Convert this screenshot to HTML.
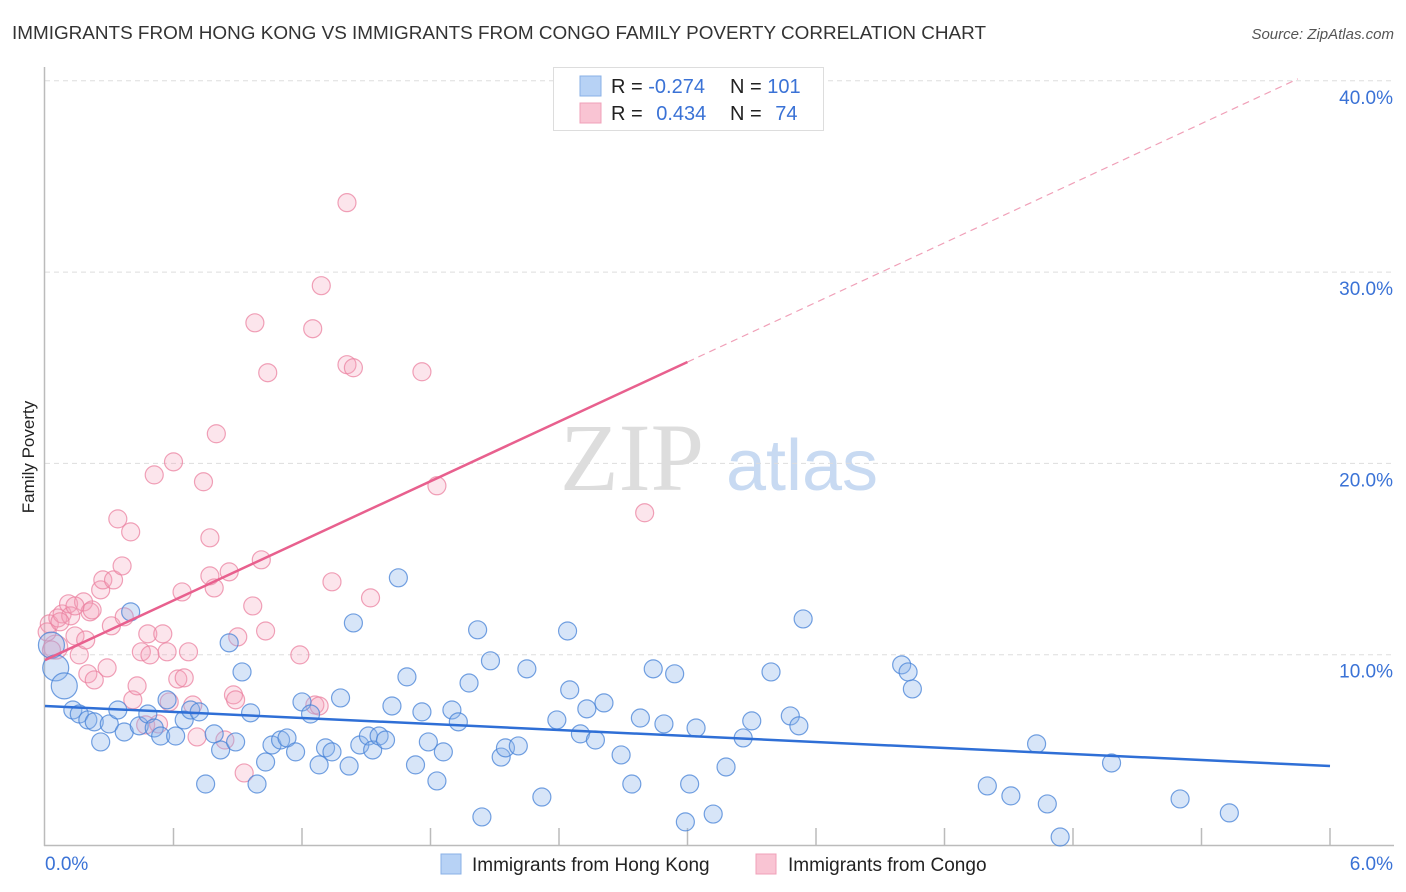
<!DOCTYPE html>
<html><head><meta charset="utf-8"><style>
body{margin:0;background:#fff;font-family:"Liberation Sans",sans-serif}
svg{display:block}
</style></head><body>
<svg id="chart" width="1406" height="892" xmlns="http://www.w3.org/2000/svg">
<text x="12" y="39" font-size="18.9" fill="#333">IMMIGRANTS FROM HONG KONG VS IMMIGRANTS FROM CONGO FAMILY POVERTY CORRELATION CHART</text>
<text x="1394" y="39" font-size="15" fill="#555" font-style="italic" text-anchor="end">Source: ZipAtlas.com</text>
<text x="34" y="457" font-size="17" fill="#222" text-anchor="middle" transform="rotate(-90 34 457)">Family Poverty</text>
<g>
<text x="632" y="490" font-size="96" font-family="Liberation Serif,serif" fill="#ddd" text-anchor="middle">ZIP</text>
<text x="802" y="490" font-size="72" fill="#c8daf2" text-anchor="middle">atlas</text>
</g>
<g id="grid"></g><g id="axes"></g><g id="pts"></g><g id="trends"></g>
<g>
<rect x="553.5" y="67.5" width="270" height="63" fill="#fff" stroke="#ddd"/>
<rect x="580" y="76" width="21" height="20" fill="#b7d2f5" stroke="#8ab0e6"/>
<rect x="580" y="103" width="21" height="20" fill="#f9c4d3" stroke="#f0a0b8"/>
<text x="611" y="93" font-size="20" fill="#222">R = <tspan fill="#3a72d6">-0.274</tspan></text>
<text x="730" y="93" font-size="20" fill="#222">N = <tspan fill="#3a72d6">101</tspan></text>
<text x="611" y="120" font-size="20" fill="#222">R = <tspan fill="#3a72d6" dx="8">0.434</tspan></text>
<text x="730" y="120" font-size="20" fill="#222">N = <tspan fill="#3a72d6" dx="8">74</tspan></text>
</g>
<g>
<rect x="441" y="854" width="20" height="20" fill="#b7d2f5" stroke="#8ab0e6"/>
<text x="472" y="871" font-size="19" fill="#222">Immigrants from Hong Kong</text>
<rect x="756" y="854" width="20" height="20" fill="#f9c4d3" stroke="#f0a0b8"/>
<text x="788" y="871" font-size="19" fill="#222">Immigrants from Congo</text>
</g>
</svg>
<script>
const blueX=[0.03,0.05,0.09,0.13,0.16,0.20,0.23,0.26,0.30,0.34,0.37,0.40,0.44,0.48,0.51,0.54,0.57,0.61,0.65,0.68,0.72,0.75,0.79,0.82,0.86,0.89,0.92,0.96,0.99,1.03,1.06,1.10,1.13,1.17,1.20,1.24,1.28,1.31,1.34,1.38,1.42,1.44,1.47,1.51,1.53,1.56,1.59,1.62,1.65,1.69,1.73,1.76,1.79,1.83,1.86,1.90,1.93,1.98,2.02,2.04,2.08,2.13,2.15,2.21,2.25,2.32,2.39,2.44,2.45,2.50,2.53,2.57,2.61,2.69,2.74,2.78,2.84,2.89,2.94,2.99,3.01,3.04,3.12,3.18,3.26,3.30,3.39,3.48,3.52,3.54,4.00,4.03,4.05,4.40,4.51,4.63,4.68,4.74,4.98,5.30,5.53];
const blueY=[10.5,9.31,8.37,7.11,6.90,6.59,6.49,5.44,6.38,7.11,5.96,12.24,6.28,6.90,6.17,5.75,7.64,5.75,6.59,7.11,7.01,3.24,5.86,5.02,10.62,5.44,9.10,6.96,3.24,4.39,5.28,5.54,5.65,4.92,7.53,6.90,4.24,5.13,4.92,7.74,4.18,11.66,5.28,5.75,5.02,5.75,5.54,7.32,14.02,8.84,4.24,7.01,5.44,3.40,4.92,7.11,6.49,8.52,11.30,1.52,9.68,4.65,5.13,5.23,9.26,2.56,6.59,11.24,8.16,5.86,7.17,5.54,7.48,4.76,3.24,6.69,9.26,6.38,9.00,1.26,3.24,6.17,1.67,4.13,5.65,6.54,9.10,6.80,6.28,11.87,9.47,9.10,8.21,3.14,2.62,5.34,2.20,0.47,4.34,2.46,1.73];
const blueBig=[0,1,2];
const pinkX=[0.02,0.05,0.06,0.08,0.11,0.12,0.14,0.16,0.18,0.20,0.21,0.23,0.26,0.27,0.29,0.31,0.32,0.34,0.36,0.37,0.40,0.41,0.43,0.45,0.47,0.48,0.49,0.51,0.53,0.55,0.57,0.58,0.60,0.62,0.64,0.65,0.67,0.69,0.71,0.74,0.77,0.77,0.79,0.80,0.84,0.86,0.88,0.89,0.90,0.93,0.97,0.98,1.01,1.03,1.04,1.19,1.25,1.26,1.29,1.34,1.41,1.41,1.44,1.52,1.76,1.83,2.80,0.01,0.03,0.07,0.14,0.19,0.22,1.28];
const pinkY=[11.61,10.4,11.92,12.13,12.66,12.03,10.98,9.99,12.76,9.00,12.24,8.68,13.39,13.91,9.31,11.51,13.91,17.10,14.64,11.98,16.42,7.64,8.37,10.15,6.33,11.09,9.99,19.40,6.38,11.09,10.15,7.53,20.08,8.73,13.28,8.79,10.15,7.37,5.70,19.04,16.11,14.12,13.49,21.55,5.54,14.33,7.90,7.64,10.93,3.82,12.55,27.35,14.96,11.24,24.74,9.99,27.04,7.37,29.29,13.81,33.63,25.16,25.0,12.97,24.79,18.83,17.42,11.19,10.25,11.72,12.55,10.77,12.34,7.32];
const pinkBig=[1];
const blueTrendX=[0,6.0], blueTrendY=[7.32,4.18];
const pinkTrendX=[0,3.0], pinkTrendY=[9.72,25.3];
const pinkDashEndX=5.85;
const yTicks=[10,20,30,40], yTickLabels=["10.0%","20.0%","30.0%","40.0%"];
const xTickCount=10;

const NS="http://www.w3.org/2000/svg";
const X0=45,X1=1330,Y0=846,YPX=19.13;
function xs(v){return X0+v*(X1-X0)/6;}
function ys(v){return Y0-v*YPX;}
function mk(p,tag,a){const e=document.createElementNS(NS,tag);for(const k in a)e.setAttribute(k,a[k]);document.getElementById(p).appendChild(e);return e;}

yTicks.forEach((t,i)=>{
 const g=mk('grid','line',{x1:X0,x2:1394,y1:ys(t),y2:ys(t),stroke:'#ddd','stroke-dasharray':'5,4'});
 
 
 const l=mk('grid','text',{x:1393,y:ys(t)+23,'font-size':19,fill:'#3a72d6','text-anchor':'end'});
 l.textContent=yTickLabels[i];
 
 
});
const ax=mk('axes','line',{x1:X0-0.5,x2:X0-0.5,y1:67,y2:Y0,stroke:'#bbb','stroke-width':1.5});


const bx=mk('axes','line',{x1:X0-1,x2:1394,y1:Y0-0.5,y2:Y0-0.5,stroke:'#bbb','stroke-width':1.5});


for(let i=1;i<=xTickCount;i++){
 const t=mk('axes','line',{x1:xs(i*0.6),x2:xs(i*0.6),y1:828,y2:Y0,stroke:'#bbb','stroke-width':1.5});
 
 
}
const xl0=mk('axes','text',{x:45,y:870,'font-size':19,fill:'#3a72d6'});xl0.textContent='0.0%';


const xl1=mk('axes','text',{x:1393,y:870,'font-size':19,fill:'#3a72d6','text-anchor':'end'});xl1.textContent='6.0%';



pinkX.forEach((v,i)=>{
 const c=mk('pts','circle',{cx:xs(v),cy:ys(pinkY[i]),r:pinkBig.includes(i)?12:9,fill:'rgba(245,160,185,0.28)',stroke:'rgba(235,130,160,0.75)','stroke-width':1.2});
 
 
});
blueX.forEach((v,i)=>{
 const c=mk('pts','circle',{cx:xs(v),cy:ys(blueY[i]),r:blueBig.includes(i)?13:9,fill:'rgba(140,180,235,0.35)',stroke:'rgba(70,130,215,0.75)','stroke-width':1.2});
 
 
});
const bt=mk('trends','line',{x1:xs(blueTrendX[0]),y1:ys(blueTrendY[0]),x2:xs(blueTrendX[1]),y2:ys(blueTrendY[1]),stroke:'#2f6fd6','stroke-width':2.5});


const pt=mk('trends','line',{x1:xs(pinkTrendX[0]),y1:ys(pinkTrendY[0]),x2:xs(pinkTrendX[1]),y2:ys(pinkTrendY[1]),stroke:'#e8608e','stroke-width':2.5});


const slope=(pinkTrendY[1]-pinkTrendY[0])/(pinkTrendX[1]-pinkTrendX[0]);
const pd=mk('trends','line',{x1:xs(pinkTrendX[1]),y1:ys(pinkTrendY[1]),x2:xs(pinkDashEndX),y2:ys(pinkTrendY[0]+slope*pinkDashEndX),stroke:'#f0a0b8','stroke-width':1.2,'stroke-dasharray':'7,5'});


</script>
</body></html>
